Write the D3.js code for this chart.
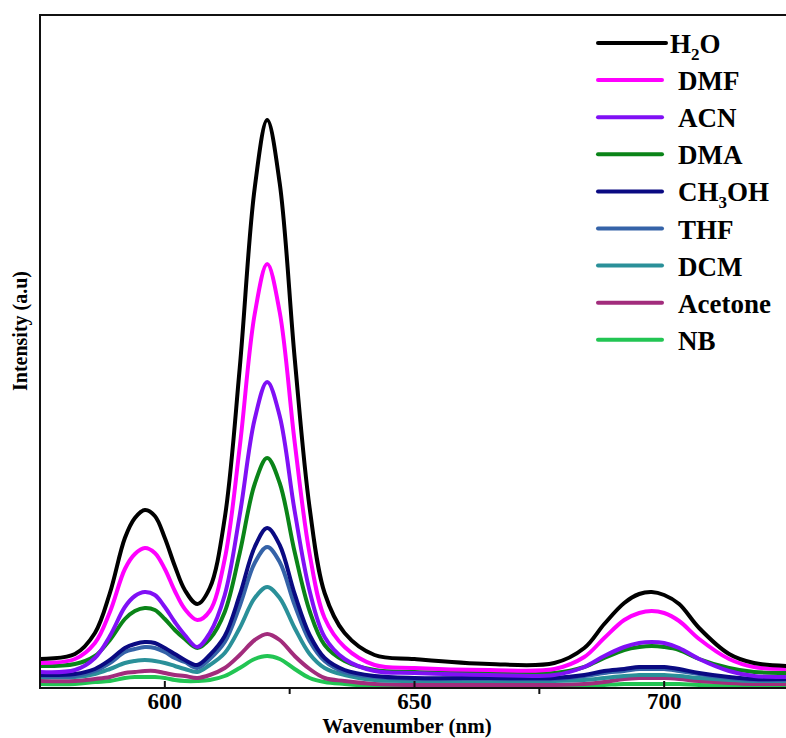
<!DOCTYPE html>
<html>
<head>
<meta charset="utf-8">
<script src="https://cdn.jsdelivr.net/npm/d3@7"></script>
<style>
	body { margin: 0; background: #fff; }
	text { font-family: "Liberation Serif", "Times New Roman", serif; font-weight: bold; fill: #000; }
</style>
</head>
<body>
<script>
const wavelengths = [575, 582, 586, 589, 592, 594, 596, 598, 600, 602, 604, 606.5, 609, 612, 615, 618, 620.5, 623, 626, 629, 632, 636, 642, 650, 665, 678, 684, 688, 692, 695, 697.5, 700, 703, 707, 713, 718, 725];

// intensities (a.u.) per solvent
const h2o     = [29, 34, 55, 95, 150, 170, 178, 172, 150, 122, 98, 84, 100, 170, 320, 500, 568, 505, 330, 180, 95, 55, 33, 29, 24, 25, 40, 64, 85, 94, 96, 93, 84, 60, 34, 25, 22];
const dmf     = [25, 29, 45, 76, 119, 134, 140, 135, 119, 97, 79, 68, 77, 129, 241, 374, 424, 376, 246, 134, 70, 41, 23, 20, 18, 19, 31, 50, 68, 75, 77, 75, 67, 49, 29, 21, 19];
const acn     = [16, 18, 30, 52, 81, 92, 96, 93, 81, 66, 53, 41, 55, 93, 173, 269, 306, 272, 177, 97, 51, 29, 17, 15, 13, 13, 21, 32, 41, 45, 46, 45, 40, 29, 17, 12, 11];
const dma     = [22, 24, 32, 48, 69, 77, 80, 78, 69, 58, 49, 40, 49, 76, 135, 204, 230, 205, 136, 77, 43, 27, 18, 16, 15, 15, 21, 30, 38, 41, 42, 41, 38, 29, 20, 16, 15];
const ch3oh   = [13, 14, 19, 28, 40, 44, 46, 45, 40, 34, 28, 23, 33, 52, 93, 141, 160, 143, 94, 53, 30, 18, 12, 10, 10, 10, 13, 17, 19, 21, 21, 21, 19, 15, 11, 9, 9];
const thf     = [12, 12, 17, 25, 36, 39, 41, 40, 36, 30, 26, 20, 29, 46, 82, 125, 141, 126, 83, 47, 27, 16, 11, 9, 9, 9, 12, 15, 17, 19, 19, 19, 17, 14, 10, 8, 8];
const dcm     = [11, 11, 14, 19, 25, 27, 28, 27, 25, 22, 19, 16, 23, 35, 60, 90, 101, 90, 60, 34, 20, 13, 8, 7, 7, 7, 8, 10, 12, 13, 13, 13, 12, 10, 8, 7, 7];
const acetone = [7, 7, 9, 11, 15, 16, 17, 17, 15, 13, 12, 10, 13, 20, 33, 48, 54, 48, 32, 19, 10, 7, 4, 3, 3, 3, 4, 6, 9, 10, 10, 10, 9, 7, 5, 4, 4];
const nb      = [4, 4, 6, 7, 10, 11, 11, 11, 10, 8, 7, 7, 8, 12, 20, 29, 32, 29, 19, 10, 6, 4, 2, 1, 1, 1, 2, 3, 4, 4, 4, 4, 4, 3, 2, 2, 2];

const names  = ["H2O", "DMF", "ACN", "DMA", "CH3OH", "THF", "DCM", "Acetone", "NB"];
const colors = ["#000000", "#ff00ff", "#8010f5", "#0a8418", "#0a0a82", "#3563a8", "#2a9099", "#a22c7c", "#22c553"];
const values = [h2o, dmf, acn, dma, ch3oh, thf, dcm, acetone, nb];

const xTicks = [600, 650, 700];
const xMinorTicks = [625, 675];

const WIDTH = 786;
const HEIGHT = 738;
const MARGINS = { top: 15, right: -3, bottom: 50, left: 40 };

const series = names.map((name, i) => ({
	name,
	color: colors[i],
	points: wavelengths.map((w, j) => ({ x: w, y: values[i][j] }))
}));

const svg = d3.select("body")
	.append("svg")
	.attr("width", WIDTH)
	.attr("height", HEIGHT)
	.attr("xmlns", "http://www.w3.org/2000/svg");

// ---- X -------------------------
const xScale = d3.scaleLinear()
	.domain([575, 725])
	.range([MARGINS.left, WIDTH - MARGINS.right]);

// ---- Y -------------------------
const yScale = d3.scaleLinear()
	.domain([0, 673])
	.range([HEIGHT - MARGINS.bottom, MARGINS.top]);

const line = d3.line()
	.curve(d3.curveCatmullRom.alpha(0.5))
	.x(d => xScale(d.x))
	.y(d => yScale(d.y));

// curves, H2O drawn last so it sits on top
svg.append("g")
	.classed("paths", true)
	.selectAll("path")
	.data(series.slice().reverse())
	.join("path")
	.attr("fill", "none")
	.attr("stroke", d => d.color)
	.attr("stroke-width", 4)
	.attr("stroke-linejoin", "round")
	.attr("d", d => line(d.points));

// frame
const y0 = yScale(0);
const y1 = yScale(673);
const frame = svg.append("g").attr("stroke", "#111").attr("stroke-width", 2).attr("fill", "none");
frame.append("path").attr("d", `M${xScale(575)},${y0}H${xScale(725)}`);
frame.append("path").attr("d", `M${xScale(575)},${y1}H${xScale(725)}`);
frame.append("path").attr("d", `M${xScale(575)},${y0 + 1}V${y1 - 1}`);
frame.append("path").attr("d", `M${xScale(725)},${y0 + 1}V${y1 - 1}`);

// bottom axis: major ticks inward, minor ticks outward
const xAxis = svg.append("g").attr("transform", `translate(0,${y0})`);
xAxis.selectAll(".major")
	.data(xTicks)
	.join("line")
	.attr("x1", d => xScale(d)).attr("x2", d => xScale(d))
	.attr("y1", 0).attr("y2", -7)
	.attr("stroke", "#111").attr("stroke-width", 2);
xAxis.selectAll(".minor")
	.data(xMinorTicks)
	.join("line")
	.attr("x1", d => xScale(d)).attr("x2", d => xScale(d))
	.attr("y1", 0).attr("y2", 6)
	.attr("stroke", "#111").attr("stroke-width", 2);
xAxis.selectAll(".lbl")
	.data(xTicks)
	.join("text")
	.attr("x", d => xScale(d))
	.attr("y", 21)
	.attr("text-anchor", "middle")
	.attr("font-size", 23)
	.text(d => d);

// axis titles
svg.append("text")
	.attr("x", 407)
	.attr("y", 733)
	.attr("text-anchor", "middle")
	.attr("font-size", 21)
	.text("Wavenumber (nm)");

svg.append("text")
	.attr("transform", "translate(27,331) rotate(-90)")
	.attr("text-anchor", "middle")
	.attr("font-size", 20)
	.text("Intensity (a.u)");

// legend
const legend = svg.append("g").classed("legend", true);
const rows = legend.selectAll("g")
	.data(series)
	.join("g")
	.attr("transform", (d, i) => `translate(0,${43 + i * 37.1})`);

rows.append("line")
	.attr("x1", 598)
	.attr("x2", (d, i) => i === 0 ? 666 : 662)
	.attr("stroke", d => d.color)
	.attr("stroke-width", 4)
	.attr("stroke-linecap", "round");

const label = rows.append("text")
	.attr("x", (d, i) => i === 0 ? 670 : 678)
	.attr("y", 10)
	.attr("font-size", 27);

// subscripts for H2O and CH3OH
label.each(function (d) {
	const t = d3.select(this);
	const m = d.name.match(/^([A-Z]+)(\d)(.*)$/);
	if (!m) {
		t.text(d.name);
		return;
	}
	t.append("tspan").text(m[1]);
	t.append("tspan").attr("dy", 7).attr("font-size", 17).text(m[2]);
	t.append("tspan").attr("dy", -7).text(m[3]);
});
</script>
</body>
</html>
